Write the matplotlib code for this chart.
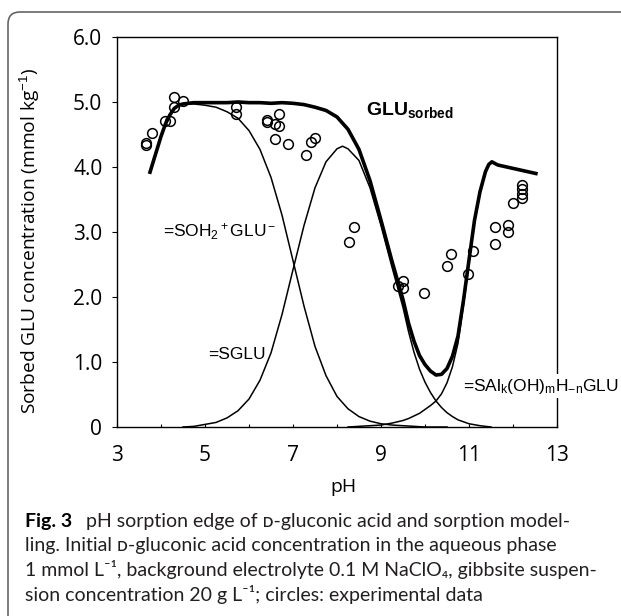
import matplotlib.pyplot as plt
from matplotlib.patches import FancyBboxPatch

# text with sub/superscripts in the plot area uses an Arial-like face
plt.rcParams['mathtext.fontset'] = 'custom'
plt.rcParams['mathtext.rm'] = 'Liberation Sans'
plt.rcParams['mathtext.it'] = 'Liberation Sans'
plt.rcParams['mathtext.bf'] = 'Liberation Sans:bold'

# experimental points (pH, sorbed GLU in mmol/kg)
ph_exp = [3.67, 3.67, 3.79, 4.09, 4.20, 4.30, 4.30, 4.49, 5.70, 5.70,
          6.40, 6.40, 6.59, 6.69, 6.69, 6.59, 6.88, 7.30, 7.41, 7.50,
          8.28, 8.39, 9.39, 9.49, 9.49, 9.98, 10.49, 10.59, 10.98, 11.10,
          11.59, 11.59, 11.88, 11.88, 11.99, 12.20, 12.20, 12.20, 12.20]
glu_exp = [4.37, 4.34, 4.53, 4.71, 4.71, 5.07, 4.92, 5.02, 4.93, 4.81,
           4.73, 4.70, 4.66, 4.81, 4.63, 4.43, 4.36, 4.18, 4.39, 4.45,
           2.84, 3.07, 2.17, 2.25, 2.14, 2.06, 2.47, 2.66, 2.35, 2.71,
           3.07, 2.81, 3.11, 3.00, 3.44, 3.52, 3.59, 3.66, 3.73]

# model: total sorbed GLU
ph_tot = [3.75, 3.9, 4.0, 4.1, 4.2, 4.3, 4.4, 4.5, 4.75, 5.0, 5.25, 5.5,
          5.75, 6.0, 6.25, 6.5, 6.75, 7.0, 7.25, 7.5, 7.75, 8.0, 8.25, 8.5,
          8.75, 9.0, 9.25, 9.5, 9.625, 9.75, 9.875, 10.0, 10.125, 10.25,
          10.375, 10.5, 10.625, 10.75, 10.875, 11.0, 11.125, 11.25, 11.375,
          11.45, 11.52, 11.6, 11.66, 12.52]
glu_tot = [3.92, 4.25, 4.47, 4.66, 4.80, 4.90, 4.95, 4.97, 4.99, 4.99, 4.99, 4.99,
           5.00, 4.99, 4.99, 4.98, 4.99, 4.98, 4.96, 4.92, 4.87, 4.77, 4.58, 4.27,
           3.79, 3.18, 2.55, 1.96, 1.60, 1.32, 1.10, 0.96, 0.86, 0.80,
           0.81, 0.90, 1.09, 1.40, 1.95, 2.57, 3.18, 3.62, 3.93,
           4.04, 4.08, 4.05, 4.03, 3.90]

# =SOH2+GLU-
ph_s1 = [3.75, 3.9, 4.0, 4.1, 4.2, 4.3, 4.4, 4.5, 4.75, 5.0, 5.25, 5.5,
         5.75, 6.0, 6.25, 6.5, 6.75, 7.0, 7.25, 7.5, 7.75, 8.0, 8.25, 8.5,
         8.75, 9.0, 9.25, 9.5, 9.75, 10.0, 10.5]
glu_s1 = [3.92, 4.25, 4.47, 4.66, 4.80, 4.90, 4.95, 4.97, 4.97, 4.95, 4.92, 4.85,
          4.75, 4.56, 4.27, 3.84, 3.26, 2.56, 1.86, 1.24, 0.79, 0.47, 0.28, 0.16,
          0.09, 0.05, 0.03, 0.02, 0.01, 0.0, 0.0]

# =SGLU
ph_s2 = [4.5, 4.75, 5.0, 5.25, 5.5, 5.75, 6.0, 6.25, 6.5, 6.75, 7.0, 7.25,
         7.5, 7.75, 8.0, 8.125, 8.25, 8.5, 8.75, 9.0, 9.25, 9.5, 9.625, 9.75,
         9.875, 10.0, 10.125, 10.25, 10.375, 10.5, 10.625, 10.75, 11.0, 11.25,
         11.5]
glu_s2 = [0.0, 0.01, 0.04, 0.07, 0.14, 0.25, 0.43, 0.72, 1.14, 1.73, 2.42, 3.10,
          3.68, 4.08, 4.28, 4.32, 4.28, 4.10, 3.68, 3.10, 2.46, 1.84, 1.47, 1.15,
          0.89, 0.69, 0.53, 0.40, 0.30, 0.22, 0.16, 0.11, 0.05, 0.02,
          0.0]

# =SAlk(OH)mH-nGLU
ph_s3 = [8.25, 8.5, 8.75, 9.0, 9.25, 9.5, 9.625, 9.75, 9.875, 10.0, 10.125,
         10.25, 10.375, 10.5, 10.625, 10.75, 10.875, 11.0, 11.125, 11.25,
         11.375, 11.45, 11.52, 11.6, 11.66, 12.52]
glu_s3 = [0.0, 0.01, 0.02, 0.03, 0.06, 0.10, 0.13, 0.17, 0.21, 0.27, 0.33,
          0.40, 0.51, 0.68, 0.93, 1.29, 1.88, 2.52, 3.15, 3.60,
          3.92, 4.04, 4.08, 4.05, 4.03, 3.90]

x_major = [3, 5, 7, 9, 11, 13]
x_minor = [4, 6, 8, 10, 12]
y_ticks = [0, 1, 2, 3, 4, 5, 6]
y_labels = ['0', '1.0', '2.0', '3.0', '4.0', '5.0', '6.0']

fig = plt.figure(figsize=(6.21, 6.16), dpi=100)
ax = fig.add_axes([117 / 621, 1 - 427 / 616, 440 / 621, 390 / 616])

ax.plot(ph_s1, glu_s1, color='black', lw=1.1)
ax.plot(ph_s2, glu_s2, color='black', lw=1.1)
ax.plot(ph_s3, glu_s3, color='black', lw=1.1)
ax.plot(ph_tot, glu_tot, color='black', lw=2.6, solid_joinstyle='round')
ax.plot(ph_exp, glu_exp, linestyle='none', marker='o', ms=7.0,
        mfc='none', mec='black', mew=1.1)

ax.set_xlim(3, 13)
ax.set_ylim(0, 6)
ax.set_xticks(x_major)
ax.set_xticks(x_minor, minor=True)
ax.set_yticks(y_ticks)
ax.set_yticklabels(y_labels)
ax.tick_params(axis='x', which='both', direction='in', length=2.5, width=0.8,
               pad=13, labelsize=15)
ax.tick_params(axis='y', direction='out', length=3.6, width=0.8, pad=7,
               labelsize=15)
for lab in ax.get_xticklabels() + ax.get_yticklabels():
    lab.set_family('Open Sans')
for sp in ax.spines.values():
    sp.set_linewidth(1.0)

# species labels
ax.text(4.05, 3.0, '=SOH$_2{}^+$GLU$^-$', fontsize=12.5,
        family='Liberation Sans', va='center', ha='left')
ax.text(5.07, 1.12, '=SGLU', fontsize=12.5, family='Liberation Sans',
        va='center', ha='left')
ax.text(10.86, 0.63, '=SAl$_\\mathrm{k}$(OH)$_\\mathrm{m}$H$_\\mathrm{-n}$GLU',
        fontsize=12.5, family='Liberation Sans', va='center', ha='left',
        clip_on=False, zorder=5,
        bbox=dict(facecolor='white', edgecolor='none', pad=1.5))
ax.text(8.66, 4.88, 'GLU$_\\mathbf{sorbed}$', fontsize=14, fontweight='bold',
        family='Liberation Sans', va='center', ha='left')

fig.text(30 / 621, 1 - 241 / 616, 'Sorbed GLU concentration (mmol kg$^{-1}$)',
         rotation=90, ha='center', va='center', fontsize=13.8, family='Open Sans')
fig.text(343 / 621, 1 - 487 / 616, 'pH', ha='center', va='center',
         fontsize=14, family='Open Sans')

# caption
cap_font = ['Lato', 'DejaVu Sans']
cap_col = '#231f20'
fig.text(25 / 621, 1 - 527 / 616, 'Fig. 3', fontsize=14, fontweight='bold',
         family=cap_font, color='black', va='baseline')
fig.text(86 / 621, 1 - 527 / 616,
         'pH sorption edge of \u1d05-gluconic acid and sorption model-',
         fontsize=14, family=cap_font, color=cap_col, va='baseline')
fig.text(25 / 621, 1 - 551.5 / 616,
         'ling. Initial \u1d05-gluconic acid concentration in the aqueous phase',
         fontsize=14, family=cap_font, color=cap_col, va='baseline')
fig.text(25 / 621, 1 - 576 / 616,
         '1 mmol L\u207b\u00b9, background electrolyte 0.1 M NaClO\u2084, gibbsite suspen-',
         fontsize=14, family=cap_font, color=cap_col, va='baseline')
fig.text(25 / 621, 1 - 600.5 / 616,
         'sion concentration 20 g L\u207b\u00b9; circles: experimental data',
         fontsize=14, family=cap_font, color=cap_col, va='baseline')

# rounded frame around the figure panel (open to the right and bottom)
frame = FancyBboxPatch((8, -40), 700, 616 - 12 + 40,
                       boxstyle='round,pad=0,rounding_size=12',
                       transform=None, facecolor='none', edgecolor='#666666',
                       lw=1.2)
fig.add_artist(frame)

fig.savefig('out.png', dpi=100)
